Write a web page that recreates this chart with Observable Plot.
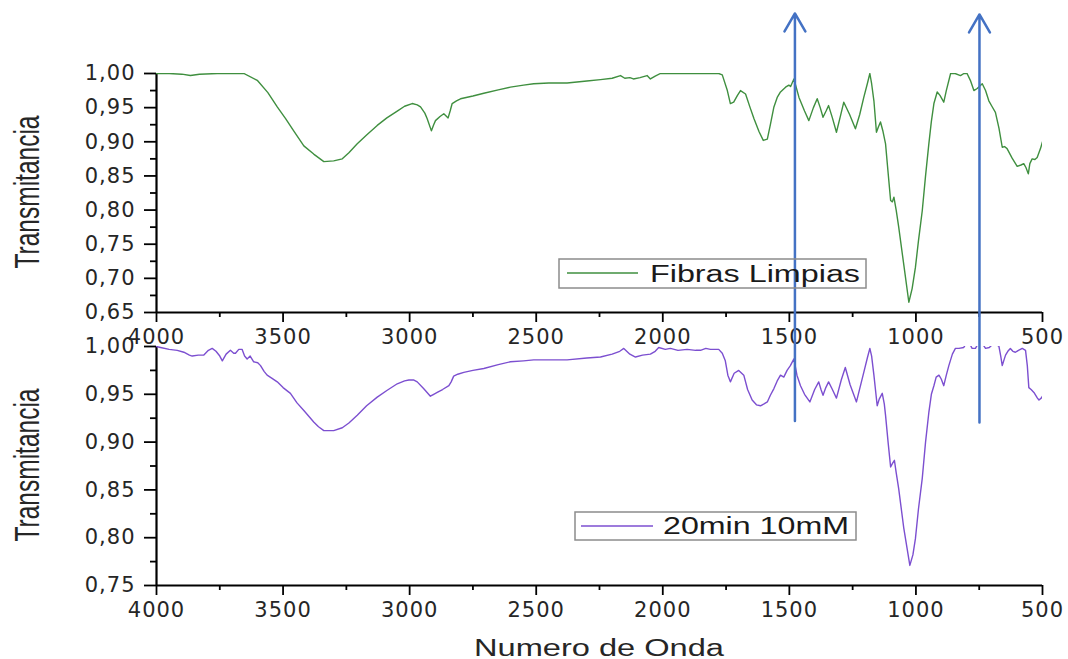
<!DOCTYPE html>
<html>
<head>
<meta charset="utf-8">
<script src="https://cdn.jsdelivr.net/npm/d3@7"></script>
<script src="https://cdn.jsdelivr.net/npm/@observablehq/plot@0.6"></script>
<style>
html, body { margin: 0; padding: 0; background: #fff; overflow: hidden; }
#chart { position: relative; width: 1068px; height: 659px; }
#chart svg { position: absolute; left: 0; top: 0; }
</style>
</head>
<body>
<div id="chart"></div>
<script>
// ---------- data ----------
const seriesNames = ["Fibras Limpias", "20min 10mM"];
const seriesColors = ["#3f8f3f", "#7c4fd0"];

const waveTop = [4000,3950,3900,3866,3830,3760,3700,3655,3602,3560,3523,3490,3458,3418,3379,3339,3300,3266,3240,3207,3170,3128,3090,3049,3020,2990,2970,2957,2940,2931,2914,2905,2898,2880,2865,2848,2840,2832,2815,2799,2750,2707,2650,2602,2550,2510,2450,2378,2300,2246,2200,2167,2150,2130,2116,2090,2062,2049,2030,2009,1970,1900,1850,1779,1765,1745,1733,1720,1705,1693,1673,1655,1640,1620,1603,1587,1575,1561,1548,1535,1515,1502,1495,1482,1462,1440,1423,1405,1390,1378,1367,1355,1345,1330,1314,1300,1285,1262,1239,1222,1206,1192,1182,1175,1166,1156,1148,1140,1130,1120,1110,1100,1093,1087,1078,1068,1048,1028,1015,1002,990,975,962,949,939,929,916,905,890,880,863,845,824,810,798,785,771,758,738,725,712,700,686,672,659,650,640,620,600,585,574,565,556,550,541,530,521,508,500];
const transTop = [1.000,1.000,0.999,0.997,0.999,1.000,1.000,1.000,0.990,0.972,0.951,0.934,0.916,0.894,0.882,0.871,0.872,0.875,0.884,0.897,0.910,0.924,0.935,0.945,0.952,0.956,0.954,0.951,0.942,0.934,0.916,0.925,0.931,0.937,0.941,0.935,0.945,0.956,0.960,0.963,0.967,0.971,0.976,0.980,0.983,0.985,0.986,0.986,0.989,0.991,0.993,0.997,0.993,0.994,0.992,0.994,0.997,0.992,0.996,1.000,1.000,1.000,1.000,1.000,0.998,0.975,0.956,0.958,0.968,0.975,0.970,0.950,0.934,0.915,0.902,0.904,0.925,0.951,0.965,0.973,0.980,0.983,0.981,0.992,0.965,0.945,0.931,0.950,0.963,0.950,0.936,0.945,0.953,0.935,0.914,0.935,0.958,0.940,0.919,0.940,0.965,0.985,1.000,0.985,0.960,0.914,0.922,0.929,0.915,0.897,0.855,0.814,0.812,0.819,0.800,0.775,0.720,0.665,0.685,0.716,0.755,0.799,0.850,0.897,0.930,0.956,0.973,0.968,0.958,0.975,1.000,1.000,0.997,1.000,1.000,0.990,0.975,0.978,0.985,0.975,0.960,0.952,0.943,0.920,0.892,0.893,0.890,0.876,0.864,0.866,0.868,0.862,0.853,0.868,0.875,0.874,0.877,0.890,0.900];

const waveBottom = [4000,3984,3950,3918,3892,3870,3859,3835,3813,3795,3780,3765,3750,3740,3725,3708,3695,3688,3675,3662,3652,3642,3630,3616,3600,3589,3575,3563,3545,3523,3500,3471,3445,3418,3395,3379,3360,3339,3300,3266,3240,3207,3170,3128,3090,3049,3020,3003,2985,2970,2945,2918,2905,2891,2870,2845,2836,2826,2810,2786,2750,2707,2650,2602,2550,2510,2450,2378,2300,2246,2200,2170,2154,2130,2108,2080,2049,2030,2016,1990,1970,1940,1904,1870,1851,1830,1812,1790,1779,1765,1753,1743,1733,1718,1700,1680,1665,1647,1630,1614,1600,1587,1575,1561,1548,1535,1522,1509,1496,1482,1470,1456,1440,1419,1400,1384,1375,1367,1356,1345,1330,1314,1295,1279,1260,1235,1220,1206,1192,1182,1175,1166,1153,1145,1133,1125,1120,1110,1100,1092,1085,1078,1068,1048,1024,1012,1002,990,975,962,949,939,929,920,909,900,890,880,870,856,844,830,811,800,790,778,765,752,740,725,710,690,672,665,659,652,646,637,627,617,607,595,580,567,560,554,545,534,520,514,505,500];
const transBottom = [1.000,0.999,0.997,0.996,0.994,0.991,0.990,0.991,0.991,0.996,0.998,0.995,0.990,0.985,0.992,0.996,0.993,0.993,0.997,0.997,0.990,0.987,0.990,0.984,0.983,0.980,0.974,0.970,0.967,0.963,0.957,0.951,0.941,0.933,0.926,0.921,0.916,0.912,0.912,0.915,0.920,0.928,0.938,0.947,0.954,0.961,0.964,0.965,0.965,0.963,0.956,0.948,0.950,0.952,0.955,0.959,0.963,0.969,0.971,0.973,0.975,0.977,0.981,0.984,0.985,0.986,0.986,0.986,0.988,0.989,0.992,0.995,0.998,0.992,0.989,0.991,0.992,0.995,0.999,0.997,0.998,0.996,0.997,0.996,0.996,0.998,0.997,0.997,0.997,0.993,0.985,0.970,0.963,0.972,0.975,0.970,0.955,0.944,0.939,0.938,0.940,0.942,0.949,0.956,0.964,0.970,0.968,0.975,0.980,0.987,0.970,0.959,0.950,0.942,0.955,0.963,0.955,0.949,0.957,0.963,0.955,0.946,0.965,0.978,0.960,0.942,0.958,0.973,0.988,0.998,0.990,0.970,0.938,0.945,0.951,0.940,0.928,0.900,0.874,0.878,0.881,0.868,0.851,0.810,0.771,0.782,0.799,0.830,0.862,0.900,0.931,0.950,0.959,0.968,0.970,0.966,0.959,0.970,0.980,0.992,0.998,0.998,0.999,1.004,1.004,0.998,0.998,1.004,1.004,0.998,0.999,1.004,1.000,0.990,0.980,0.986,0.991,0.995,0.998,0.995,0.994,0.996,0.998,0.996,0.980,0.957,0.955,0.952,0.946,0.944,0.946,0.948];

const xMajor = [4000, 3500, 3000, 2500, 2000, 1500, 1000, 500];
const xMinor = [3750, 3250, 2750, 2250, 1750, 1250, 750];
const yMajorTop = [0.65, 0.70, 0.75, 0.80, 0.85, 0.90, 0.95, 1.00];
const yMinorTop = [0.675, 0.725, 0.775, 0.825, 0.875, 0.925, 0.975];
const yMajorBottom = [0.75, 0.80, 0.85, 0.90, 0.95, 1.00];
const yMinorBottom = [0.775, 0.825, 0.875, 0.925, 0.975];

// annotation arrows (wavenumber, transmittance in top-panel units)
const arrowX = [1478, 749];
const arrowTop = [1.088, 1.0865];
const arrowBottom = [0.491, 0.489];

const yTitle = "Transmitancia";
const xTitle = "Numero de Onda";

// ---------- build ----------
const topData = waveTop.map((w, i) => ({w, t: transTop[i]}));
const bottomData = waveBottom.map((w, i) => ({w, t: transBottom[i]}));
const arrowData = arrowX.map((x, i) => ({x, t: arrowTop[i], b: arrowBottom[i]}));

const fmt = d => d.toFixed(2).replace(".", ",");
const W = 1068, H = 659;
const textColor = "#262626";
const baseStyle = {fontFamily: "DejaVu Sans", fontSize: "21px", background: "transparent", overflow: "visible", letterSpacing: "1px"};

function axes(yMaj, yMin, y0) {
  return [
    Plot.axisY(yMaj, {tickSize: 12, tickPadding: 9, tickFormat: fmt, label: null, stroke: "#000", strokeWidth: 1.8, fill: textColor}),
    Plot.axisY(yMin, {tickSize: 6, fill: "none", label: null, stroke: "#000", strokeWidth: 1.8}),
    Plot.axisX(xMajor, {tickSize: 10, tickPadding: 7, tickFormat: d => String(d), label: null, stroke: "#000", strokeWidth: 1.8, fill: textColor}),
    Plot.axisX(xMinor, {tickSize: 5, fill: "none", label: null, stroke: "#000", strokeWidth: 1.8}),
    Plot.ruleX([4000], {stroke: "#000", strokeWidth: 2.2}),
    Plot.ruleY([y0], {stroke: "#000", strokeWidth: 2.2})
  ];
}

const bottomSvg = Plot.plot({
  width: W, height: H,
  marginLeft: 156, marginRight: 26, marginTop: 346, marginBottom: 74,
  style: baseStyle,
  x: {domain: [4000, 500]},
  y: {domain: [0.75, 1.0]},
  marks: [
    ...axes(yMajorBottom, yMinorBottom, 0.75),
    Plot.line(bottomData, {x: "w", y: "t", stroke: seriesColors[1], strokeWidth: 1.4, clip: true})
  ]
});

const topSvg = Plot.plot({
  width: W, height: H,
  marginLeft: 156, marginRight: 26, marginTop: 73, marginBottom: 347,
  style: baseStyle,
  x: {domain: [4000, 500]},
  y: {domain: [0.65, 1.0]},
  marks: [
    ...axes(yMajorTop, yMinorTop, 0.65),
    Plot.line(topData, {x: "w", y: "t", stroke: seriesColors[0], strokeWidth: 1.4, clip: true}),
    Plot.arrow(arrowData, {x: "x", y1: "b", y2: "t", stroke: "#4472c4", strokeWidth: 2.5, headLength: 12.5, headAngle: 60})
  ]
});

const chart = document.getElementById("chart");
chart.appendChild(bottomSvg);
chart.appendChild(topSvg);

function addYTitle(svg, cy) {
  d3.select(svg).append("text")
    .attr("transform", `translate(39,${cy}) rotate(-90)`)
    .attr("text-anchor", "middle")
    .attr("font-family", "Liberation Sans, Arial, sans-serif")
    .attr("font-size", 35)
    .attr("letter-spacing", 0)
    .attr("textLength", 153)
    .attr("lengthAdjust", "spacingAndGlyphs")
    .attr("fill", textColor)
    .text(yTitle);
}
function addLegend(svg, L, name, color) {
  const g = d3.select(svg).append("g");
  g.append("rect").attr("x", L.x0).attr("y", L.y0).attr("width", L.x1 - L.x0).attr("height", L.y1 - L.y0)
    .attr("fill", "none").attr("stroke", "#8c8c8c").attr("stroke-width", 1.5);
  g.append("line").attr("x1", L.lx0).attr("x2", L.lx1).attr("y1", L.ly).attr("y2", L.ly)
    .attr("stroke", color).attr("stroke-width", 1.4);
  g.append("text").attr("x", L.tx).attr("y", L.ty)
    .attr("text-anchor", "start")
    .attr("font-family", "Liberation Sans, Arial, sans-serif").attr("font-size", 23)
    .attr("letter-spacing", 0)
    .attr("textLength", L.tlen).attr("lengthAdjust", "spacingAndGlyphs")
    .attr("fill", "#1a1a1a").text(name);
}

addYTitle(topSvg, 192);
addYTitle(bottomSvg, 465);
addLegend(topSvg, {x0: 559, x1: 866, y0: 259, y1: 288, lx0: 567, lx1: 638, ly: 273, tx: 650, ty: 282, tlen: 210}, seriesNames[0], seriesColors[0]);
addLegend(bottomSvg, {x0: 575, x1: 856, y0: 512, y1: 540, lx0: 581, lx1: 653, ly: 526, tx: 663, ty: 534, tlen: 186}, seriesNames[1], seriesColors[1]);

d3.select(bottomSvg).append("text")
  .attr("x", 599).attr("y", 656)
  .attr("text-anchor", "middle")
  .attr("font-family", "Liberation Sans, Arial, sans-serif")
  .attr("font-size", 23)
  .attr("letter-spacing", 0)
  .attr("textLength", 250)
  .attr("lengthAdjust", "spacingAndGlyphs")
  .attr("fill", textColor)
  .text(xTitle);
</script>
</body>
</html>
